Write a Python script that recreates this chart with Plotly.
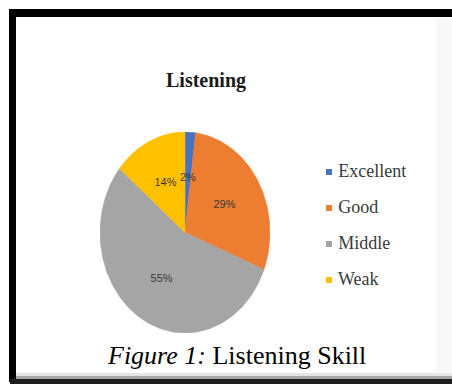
import math
import plotly.graph_objects as go

# Listening skill distribution
categories = ["Excellent", "Good", "Middle", "Weak"]
percentages = [2, 29, 55, 14]
colors = ["#4A72C0", "#ED7D31", "#A5A5A5", "#FFC000"]

W, H = 452, 384


def px(x):
    return x / W


def py(y):
    return 1 - y / H


fig = go.Figure()

# Pie wedges, clockwise from 12 o'clock, on an axis pair whose
# unequal aspect turns the unit circle into an upright ellipse
total = sum(percentages)
start = 0.0
label_x, label_y, label_txt = [], [], []
for name, val, col in zip(categories, percentages, colors):
    frac0 = start / total
    frac1 = (start + val) / total
    n = max(4, int(val * 3))
    xs, ys = [0.0], [0.0]
    for i in range(n + 1):
        t = 2 * math.pi * (frac0 + (frac1 - frac0) * i / n)
        xs.append(math.sin(t))
        ys.append(math.cos(t))
    xs.append(0.0)
    ys.append(0.0)
    fig.add_trace(go.Scatter(
        x=xs, y=ys, mode="lines", fill="toself", fillcolor=col,
        line=dict(color=col, width=0.5), hoverinfo="skip",
        showlegend=False, xaxis="x", yaxis="y",
    ))
    mid = 2 * math.pi * (frac0 + frac1) / 2
    label_x.append(0.54 * math.sin(mid))
    label_y.append(0.54 * math.cos(mid))
    label_txt.append(f"{val}%")
    start += val

fig.add_trace(go.Scatter(
    x=label_x, y=label_y, mode="text", text=label_txt,
    textfont=dict(family="Liberation Sans Narrow, Liberation Sans, sans-serif",
                  size=11, color="#3a3a3a"),
    hoverinfo="skip", showlegend=False, xaxis="x", yaxis="y",
))

# Legend drawn as square markers with labels
fig.add_trace(go.Scatter(
    x=[0] * len(categories), y=list(range(len(categories))),
    mode="markers+text", text=[" " + c for c in categories],
    textposition="middle right",
    marker=dict(symbol="square", size=6, color=colors),
    textfont=dict(family="Liberation Serif, Times New Roman, serif",
                  size=18, color="#3a3a3a"),
    cliponaxis=False, hoverinfo="skip", showlegend=False,
    xaxis="x2", yaxis="y2",
))

hidden = dict(visible=False, showgrid=False, zeroline=False, fixedrange=True)

shapes = [
    # faint shading near the right edge
    dict(type="rect", xref="paper", yref="paper", x0=px(436), x1=px(452),
         y0=py(372), y1=py(17), fillcolor="#f8f8f8", line_width=0, layer="below"),
    # frame: top and left heavy strokes
    dict(type="rect", xref="paper", yref="paper", x0=px(10), x1=px(452),
         y0=py(17), y1=py(9), fillcolor="#000000", line_width=0),
    dict(type="rect", xref="paper", yref="paper", x0=px(9), x1=px(16),
         y0=py(382), y1=py(9), fillcolor="#000000", line_width=0),
    # bottom edge with soft shadow
    dict(type="rect", xref="paper", yref="paper", x0=px(16), x1=px(452),
         y0=py(376), y1=py(373), fillcolor="#e6e6e6", line_width=0),
    dict(type="rect", xref="paper", yref="paper", x0=px(16), x1=px(452),
         y0=py(379), y1=py(376), fillcolor="#a8a8a8", line_width=0),
    dict(type="rect", xref="paper", yref="paper", x0=px(10), x1=px(452),
         y0=py(384), y1=py(379), fillcolor="#1e1e1e", line_width=0),
]

annotations = [
    dict(text="<b>Listening</b>", xref="paper", yref="paper",
         x=px(206), y=py(80), xanchor="center", yanchor="middle",
         showarrow=False,
         font=dict(family="Liberation Serif, Times New Roman, serif",
                   size=20, color="#1a1a1a")),
    dict(text="<i>Figure 1:</i> Listening Skill", xref="paper", yref="paper",
         x=px(236), y=py(355), xanchor="center", yanchor="middle",
         showarrow=False,
         font=dict(family="Liberation Serif, Times New Roman, serif",
                   size=26, color="#000000")),
]

fig.update_layout(
    width=W, height=H,
    margin=dict(l=0, r=0, t=0, b=0),
    paper_bgcolor="white", plot_bgcolor="rgba(0,0,0,0)",
    xaxis=dict(domain=[px(100), px(270)], range=[-1, 1], **hidden),
    yaxis=dict(domain=[py(333), py(132)], range=[-1, 1], **hidden),
    xaxis2=dict(domain=[px(329), px(440)], range=[0, 1], anchor="y2", **hidden),
    yaxis2=dict(domain=[py(298), py(154)], range=[3.5, -0.5], anchor="x2", **hidden),
    shapes=shapes,
    annotations=annotations,
    showlegend=False,
)

fig.write_html("out.html")
